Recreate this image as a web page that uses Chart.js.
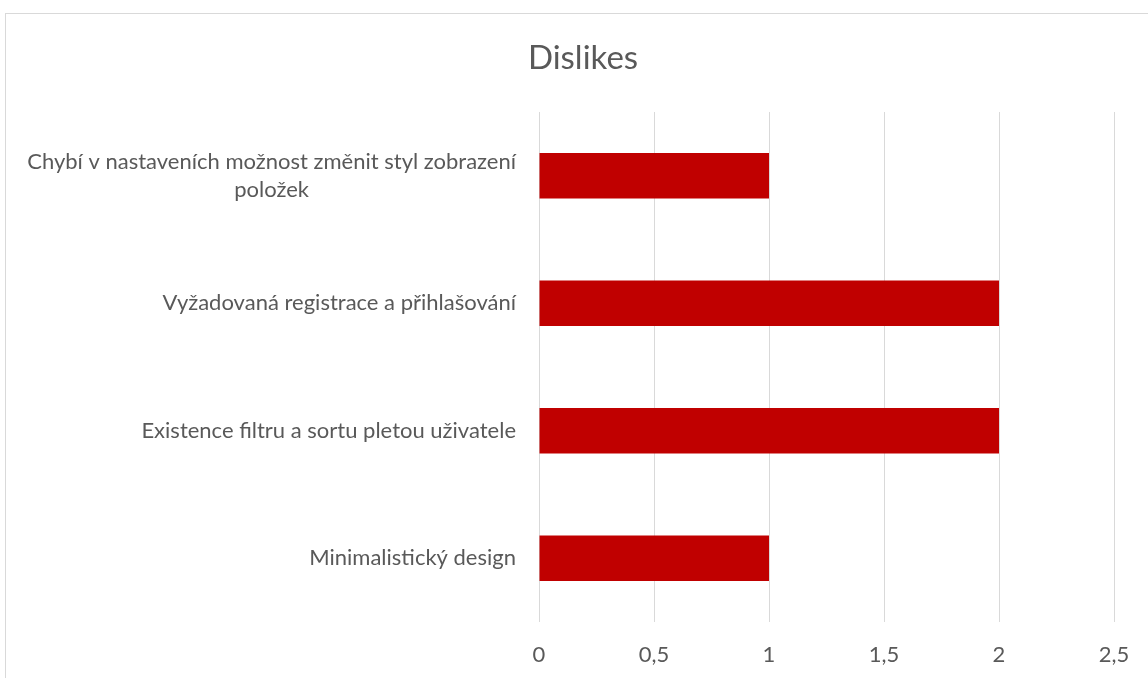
<!DOCTYPE html>
<html>
<head>
<meta charset="utf-8">
<script src="https://cdn.jsdelivr.net/npm/chart.js"></script>
<style>
  html, body { margin: 0; padding: 0; background: #fff; overflow: hidden; width: 1148px; height: 678px; }
  #wrap { position: absolute; left: 5px; top: 13px; width: 1160px; height: 700px; border: 1px solid #d9d9d9; }
  #wrap canvas { display: block; }
</style>
</head>
<body>
<div id="wrap"><canvas id="dislikesChart" width="1160" height="700"></canvas></div>
<script>
const chartTitle = 'Dislikes';
const categories = [
    ['Chybí v nastaveních možnost změnit styl zobrazení', 'položek'],
    ['Vyžadovaná registrace a přihlašování'],
    ['Existence filtru a sortu pletou uživatele'],
    ['Minimalistický design']
];
const values = [1, 2, 2, 1];
const xTicks = [0, 0.5, 1, 1.5, 2, 2.5];

const FONT = 'Lato, "Open Sans", sans-serif';
const TEXT = '#595959';

// Excel centres the lines of a wrapped label against each other, Chart.js right-aligns them,
// so the y labels are painted here at the tick positions of the category scale.
// The title is painted here too: the built-in one centres on the padded box, not the whole frame.
const excelText = {
    id: 'excelText',
    afterDraw(chart) {
        const y = chart.scales.y;
        const ctx = chart.ctx;
        const right = y.right - 23;
        const lineH = 28;
        ctx.save();
        ctx.fillStyle = TEXT;
        ctx.textBaseline = 'middle';
        ctx.textAlign = 'center';

        ctx.font = '33px ' + FONT;
        ctx.fillText(chartTitle, chart.width / 2 - 3, 44);

        ctx.font = '22px ' + FONT;
        categories.forEach((lines, i) => {
            const cy = y.getPixelForTick(i);
            const w = Math.max(...lines.map(l => ctx.measureText(l).width));
            const cx = right - w / 2;
            lines.forEach((l, j) => {
                ctx.fillText(l, cx, cy + (j - (lines.length - 1) / 2) * lineH);
            });
        });
        ctx.restore();
    }
};

new Chart(document.getElementById('dislikesChart').getContext('2d'), {
    type: 'bar',
    data: {
        labels: categories,
        datasets: [{
            label: chartTitle,
            data: values,
            backgroundColor: '#c00000',
            categoryPercentage: 1,
            barPercentage: 0.355
        }]
    },
    options: {
        indexAxis: 'y',
        responsive: false,
        animation: false,
        layout: { padding: { top: 98, right: 52, bottom: 0, left: 0 } },
        plugins: {
            legend: { display: false },
            tooltip: { enabled: false },
            title: { display: false }
        },
        scales: {
            x: {
                min: 0,
                max: 2.5,
                afterBuildTicks: s => { s.ticks = xTicks.map(v => ({ value: v })); },
                afterFit: s => { s.height = 92; },
                grid: { color: '#d9d9d9', lineWidth: 1, drawTicks: false },
                border: { display: false },
                ticks: {
                    color: TEXT,
                    padding: 20,
                    font: { family: FONT, size: 22 },
                    callback: v => String(v).replace('.', ',')
                }
            },
            y: {
                afterFit: s => { s.width = 533; },
                grid: { display: false },
                border: { display: false },
                ticks: { display: false }
            }
        }
    },
    plugins: [excelText]
});
</script>
</body>
</html>
